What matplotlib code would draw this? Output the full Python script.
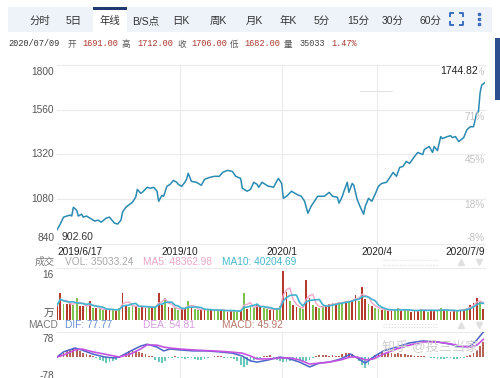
import matplotlib.pyplot as plt
import numpy as np
import pandas as pd
from matplotlib.patches import Rectangle

plt.rcParams['font.family'] = ['Liberation Sans', 'Noto Sans CJK SC', 'DejaVu Sans']

# close price, x = trading day since 2019/6/17
day = [0, 2, 4, 6, 8, 9, 10, 12, 13, 15, 16, 18, 20, 23, 25, 27, 30, 32, 35, 37,
       39, 40, 42, 46, 48, 49, 51, 52, 55, 57, 59, 61, 62, 64, 65, 67, 69, 71, 73, 74,
       76, 78, 79, 80, 82, 85, 88, 90, 93, 96, 99, 101, 104, 107, 109, 112, 113, 116, 118, 120,
       122, 123, 125, 127, 129, 130, 132, 135, 137, 138, 140, 143, 146, 149, 151, 153, 155, 157, 159, 162,
       163, 166, 168, 171, 172, 174, 175, 177, 178, 180, 181, 183, 185, 187, 188, 190, 192, 194, 196, 198,
       201, 203, 205, 207, 209, 211, 213, 215, 218, 220, 223, 224, 227, 229, 230, 232, 234, 235, 238, 240,
       241, 243, 245, 248, 250, 252, 254, 256, 257, 258, 259, 260, 261]
close = [916, 947, 984, 990, 995, 990, 1037, 1021, 990, 1000, 984, 990, 979, 963, 968, 957, 979, 984, 952, 947,
         968, 1011, 1037, 1064, 1091, 1133, 1112, 1117, 1144, 1139, 1144, 1123, 1069, 1101, 1096, 1149, 1160, 1181, 1171, 1160,
         1149, 1171, 1187, 1219, 1176, 1171, 1155, 1187, 1197, 1203, 1203, 1224, 1235, 1229, 1203, 1192, 1139, 1123, 1133, 1171,
         1160, 1144, 1171, 1160, 1149, 1149, 1144, 1192, 1165, 1085, 1096, 1123, 1107, 1096, 1069, 1005, 1043, 1069, 1096, 1096,
         1096, 1117, 1096, 1091, 1059, 1096, 1123, 1171, 1117, 1165, 1155, 1080, 1037, 1000, 1043, 1085, 1069, 1107, 1149, 1165,
         1171, 1197, 1224, 1203, 1251, 1256, 1283, 1272, 1309, 1331, 1320, 1347, 1363, 1331, 1363, 1341, 1416, 1405, 1416, 1421,
         1411, 1416, 1389, 1411, 1453, 1469, 1469, 1544, 1549, 1651, 1693, 1699, 1706]
low_day, low_val = 0, 902.60
high_day, high_val = 260, 1744.82

y_ticks = [1800, 1560, 1320, 1080, 840]
pct_ticks = [98, 71, 45, 18, -8]
pct_base = 889

tick_days = [0, 75, 137, 195, 261]
tick_labels = ['2019/6/17', '2019/10', '2020/1', '2020/4', '2020/7/9']

# volume (万), one bar every 2 trading days
vol = [4.5, 8.3, 5.0, 4.8, 5.2, 4.6, 6.8, 4.4, 4.2, 4.0, 5.8, 3.8, 3.6, 3.4,
       3.2, 3.0, 3.4, 3.2, 2.8, 3.6, 8.3, 4.4, 4.0, 4.6, 4.2, 3.8,
       4.4, 3.8, 4.2, 3.6, 3.8, 8.3, 4.6, 6.8, 4.0, 3.8,
       3.6, 3.2, 3.4, 3.8, 5.8, 3.6, 3.4, 3.2, 3.0, 3.4,
       3.2, 3.0, 2.8, 3.0, 3.2, 2.8, 2.6, 3.0, 2.8, 2.6, 2.8, 8.3, 3.4, 4.4, 3.6,
       4.8, 4.2, 3.6, 3.4, 3.2, 3.0, 3.6, 4.4,
       15.0, 8.6, 6.0, 4.6, 4.0, 3.6, 3.4,
       12.3, 6.8, 4.6, 4.0, 3.8, 4.4, 4.6, 4.8, 5.2, 5.0, 5.5, 5.4, 6.0, 5.8, 6.2, 7.7, 6.0, 10.1, 6.4, 5.0, 4.4, 3.8, 3.4,
       3.2, 3.0, 2.8, 3.4, 3.0, 3.6, 2.8, 3.0, 3.2, 2.6, 3.0, 2.8, 3.4, 3.0, 2.6, 3.2, 2.8, 3.0, 3.6, 2.8, 3.0, 2.6, 3.0, 2.8, 3.2, 3.4,
       3.6, 4.6, 5.2, 6.8, 5.6, 3.5]
up_down = ("uuduudduud" "ududduudud" "uudduduudu" "duuduudduu" "dudduududd"
           "uduuddudud" "duudduuddu" "uduudduudu" "dduududdud" "uuduududdu"
           "duuddudduu" "ududuuddud" "uuduuduuud" "u")

# MACD histogram, one bar every 2 trading days
hist = [2, 8, 14, 18, 22, 26, 24, 18, 14, 10, 6, 2, -4, -8, -14, -18, -16, -12, -8, -3,
        6, 12, 18, 22, 20, 16, 12, 8, 4, 3, -8, -16, -19, -12, -4, -2, 2, -2, -3, -5,
        -4, -2, -6, -9, -8, -6, -3, -1, 2, 3, 2, -2, -4, -3, -6, -14, -24, -31, -26, -16,
        -8, -4, -2, 2, 4, 6, -4, -10, -14, -16, -15, -12, -10, -8, -12, -16, -14, -8, -2, 4,
        6, 6, 5, 4, 5, 3, 4, 10, 12, 14, 10, 4, -12, -26, -34, -24, -10, 6, 12, 16,
        14, 12, 12, 10, 12, 10, 8, 6, 6, 4, 4, 3, 2, 0, -2, -4, -5, -6, -5, -4,
        -4, -6, -6, -4, -2, 2, 6, 12, 22, 34, 46]
macd_day = [0, 4, 11, 15, 22, 29, 35, 38, 45, 51, 55, 61, 65, 69, 75, 83, 91, 99, 107, 113,
            118, 122, 129, 136, 142, 148, 154, 160, 166, 173, 179, 183, 188, 193, 199, 207, 215, 223, 232, 240,
            246, 252, 256, 260]
dif = [0, 16, 28, 22, 9, 0, -3, 0, 19, 34, 40, 31, 19, 25, 22, 19, 19, 16, 12, 3,
       -12, -16, -9, 0, -6, -16, -31, -19, -16, -6, 9, -3, -19, 0, 19, 31, 44, 50, 47, 40,
       31, 34, 53, 78]
dea = [0, 6, 22, 25, 16, 9, 3, 0, 10, 25, 38, 37, 31, 28, 25, 22, 20, 18, 15, 12,
       3, -6, -6, -3, -3, -9, -22, -19, -16, -9, 0, 0, -9, -6, 9, 25, 37, 47, 47, 41,
       34, 31, 37, 55]

tabs = ['分时', '5日', '年线', 'B/S点', '日K', '周K', '月K', '年K', '5分', '15分', '30分', '60分']
tab_x = [40, 74, 110, 146, 181, 218, 254, 288, 322, 358, 393, 430]

W, H = 500, 378
GRID = '#ebebeb'
fig = plt.figure(figsize=(W / 100, H / 100), dpi=100)

# pixel overlay for toolbar and decorations
ov = fig.add_axes([0, 0, 1, 1])
ov.set_xlim(0, W)
ov.set_ylim(H, 0)
ov.axis('off')


def panel(x0, y0, x1, y1):
    a = fig.add_axes([x0 / W, 1 - y1 / H, (x1 - x0) / W, (y1 - y0) / H])
    a.axis('off')
    a.set_xlim(0, 261)
    return a


ax = panel(57, 65, 485, 244)
av = panel(57, 268, 485, 320)
am = panel(57, 332, 485, 382)

# toolbar
ov.add_patch(Rectangle((8, 7), 484, 25, color='#eef3fa', lw=0))
ov.add_patch(Rectangle((93, 7), 34, 26, color='white', lw=0))
ov.add_patch(Rectangle((93, 7), 34, 2.5, color='#1e3a6e', lw=0))
for t, x in zip(tabs, tab_x):
    ov.text(x, 21, t, ha='center', va='center', fontsize=7.5, color='#333333')
ic = '#3d6fc0'
for xs, ys in [([450, 450, 454], [17, 13, 13]), ([459, 463, 463], [13, 13, 17]),
               ([450, 450, 454], [21, 25, 25]), ([459, 463, 463], [25, 25, 21])]:
    ov.plot(xs, ys, color=ic, lw=1.4, solid_capstyle='butt')
ov.plot([479, 479, 479], [14, 19, 24], 's', ms=2, color=ic)
ov.add_patch(Rectangle((495, 38), 5, 62, color='#2c4f8f', lw=0))

# info line
red = '#a8372c'
info = [('2020/07/09', 8, '#333333'), ('开', 68, '#555555'), ('1691.00', 82, red),
        ('高', 122, '#555555'), ('1712.00', 137, red), ('收', 177, '#555555'),
        ('1706.00', 191, red), ('低', 230, '#555555'), ('1682.00', 244, red),
        ('量', 284, '#555555'), ('35033', 300, '#444444'), ('1.47%', 331, red)]
for s, x, c in info:
    ov.text(x, 44, s, ha='left', va='center', fontsize=6.2, color=c,
            family=['Liberation Mono', 'Noto Sans CJK SC'])

# faint crosshair remnant
ov.plot([360, 392], [91, 91], color='#e2e2e2', lw=0.8)

# main price pane
ax.set_ylim(840, 1800)
for v in y_ticks:
    ax.axhline(v, color=GRID, lw=0.8, clip_on=False, zorder=0)
for a in (ax, av, am):
    for d in tick_days[1:-1]:
        a.axvline(d, color=GRID, lw=0.8, zorder=0)
ax.plot(day, close, color='#2a8ab2', lw=1.1, zorder=3)

ytr = ax.get_yaxis_transform()
for i, v in enumerate(y_ticks):
    if i == 0:
        va, dy = 'top', -2
    elif i == len(y_ticks) - 1:
        va, dy = 'bottom', 1
    else:
        va, dy = 'center', 0
    ax.annotate(str(v), xy=(0, v), xycoords=ytr, xytext=(-3, dy), textcoords='offset pixels',
                ha='right', va=va, fontsize=7.3, color='#555555')
for p in pct_ticks:
    v = pct_base * (1 + p / 100)
    va = 'center'
    if v < 840:
        v, va = 840, 'bottom'
    ax.annotate(f'{p}%', xy=(1, v), xycoords=ytr, xytext=(0, 1 if va == 'bottom' else 0),
                textcoords='offset pixels', ha='right', va=va, fontsize=7.3, color='#c4c4c4')

xtr = ax.get_xaxis_transform()
for i, (d, s) in enumerate(zip(tick_days, tick_labels)):
    ha = 'left' if i == 0 else ('right' if i == len(tick_days) - 1 else 'center')
    ax.annotate(s, xy=(d, 0), xycoords=xtr, xytext=(0, -3), textcoords='offset pixels',
                ha=ha, va='top', fontsize=7.3, color='#222222', annotation_clip=False)

ax.annotate(f'{low_val:.2f}', xy=(low_day, low_val), xytext=(4, -5), textcoords='offset pixels',
            ha='left', va='center', fontsize=7.5, color='#333333')
ax.annotate(f'{high_val:.2f}', xy=(high_day, high_val), xytext=(-5, 4), textcoords='offset pixels',
            ha='right', va='center', fontsize=7.5, color='#222222', zorder=5,
            bbox=dict(boxstyle='square,pad=0.1', fc='white', ec='none'))

# volume pane
vday = np.arange(len(vol)) * 2
vcol = ['#b53a2c' if f == 'u' else '#7dc24b' for f in up_down[:len(vol)]]
av.set_ylim(0, 16)
av.axhline(16, color=GRID, lw=0.8, clip_on=False, zorder=0)
av.bar(vday, vol, width=1.1, color=vcol, linewidth=0, zorder=2)
vs = pd.Series(vol)
av.plot(vday, vs.rolling(3, min_periods=1).mean(), color='#f0a6c8', lw=1.0, zorder=3)
av.plot(vday, vs.rolling(5, min_periods=1).mean(), color='#3fb3cf', lw=1.2, zorder=3)

vtr = av.get_yaxis_transform()
av.annotate('16', xy=(0, 16), xycoords=vtr, xytext=(-3, -2), textcoords='offset pixels',
            ha='right', va='top', fontsize=7.3, color='#555555')
av.annotate('万', xy=(0, 0), xycoords=vtr, xytext=(-3, 1), textcoords='offset pixels',
            ha='right', va='bottom', fontsize=7.5, color='#555555')

hdr = [('成交', 35, '#777777'), ('VOL: 35033.24', 65, '#a8a8a8'),
       ('MA5: 48362.98', 143, '#e9a5c8'), ('MA10: 40204.69', 222, '#48b8cc')]
for s, x, c in hdr:
    ov.text(x, 262, s, ha='left', va='center', fontsize=7.3, color=c)

mhdr = [('MACD', 28, '#777777'), ('DIF: 77.77', 65, '#6a8fd0'),
        ('DEA: 54.81', 143, '#d79be0'), ('MACD: 45.92', 222, '#b8786a')]
for s, x, c in mhdr:
    ov.text(x, 325, s, ha='left', va='center', fontsize=7.3, color=c)

for yy in (260, 265, 324, 327):
    ov.plot([383, 437], [yy, yy], color='#dddddd', lw=0.8, ls=(0, (1, 1.5)))
for yy in (262, 325):
    ov.plot([461], [yy], marker='^', ms=5, color='#e0e0e0', lw=0)
    ov.plot([479], [yy], marker='v', ms=5, color='#e0e0e0', lw=0)

# MACD pane
hday = np.arange(len(hist)) * 2
am.set_ylim(-78, 78)
am.axhline(78, color=GRID, lw=0.8, clip_on=False, zorder=0)
hcol = ['#a8473a' if h >= 0 else '#4fbfae' for h in hist]
am.bar(hday, hist, width=1.1, color=hcol, linewidth=0, alpha=0.85, zorder=2)
am.plot(macd_day, dif, color='#4a63c8', lw=1.1, zorder=3)
am.plot(macd_day, dea, color='#c353e0', lw=1.2, zorder=3)

mtr = am.get_yaxis_transform()
am.annotate('78', xy=(0, 78), xycoords=mtr, xytext=(-3, -2), textcoords='offset pixels',
            ha='right', va='top', fontsize=7.3, color='#555555')
am.annotate('-78', xy=(0, -78), xycoords=mtr, xytext=(-3, 1), textcoords='offset pixels',
            ha='right', va='bottom', fontsize=7.3, color='#555555')

# watermark
fig.text(382 / W, 1 - 348 / H, '知乎 @投三当家', ha='left', va='center', fontsize=9.5,
         color='#cfcfcf', zorder=10)

fig.savefig('out.png', dpi=100)
